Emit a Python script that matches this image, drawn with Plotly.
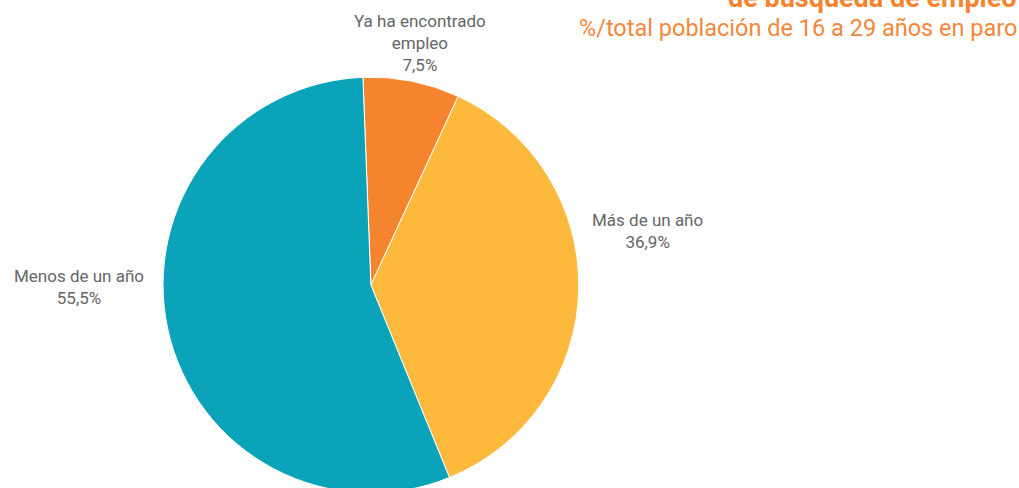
import plotly.graph_objects as go

categories = ["Ya ha encontrado empleo", "Más de un año", "Menos de un año"]
label_lines = ["Ya ha encontrado<br>empleo", "Más de un año", "Menos de un año"]
values = [7.5, 36.9, 55.5]
colors = ["#F5842E", "#FDB93B", "#0BA3BA"]

title_line = "de búsqueda de empleo"
subtitle = "%/total población de 16 a 29 años en paro"

W, H = 1019, 494

fig = go.Figure(go.Pie(
    labels=categories,
    values=values,
    sort=False,
    direction="clockwise",
    rotation=-2.2,
    marker=dict(colors=colors, line=dict(color="white", width=1)),
    textinfo="none",
    hoverinfo="skip",
    showlegend=False,
    domain=dict(x=[0.16, 0.568], y=[0.002, 0.844]),
))

# label placement (paper px from top-left) for each slice label
label_pos = [(420, 43), (647, 231), (79, 287)]
annotations = []
for lab, val, (px, py) in zip(label_lines, values, label_pos):
    txt = f"{lab}<br>{val:.1f}%".replace(".", ",")
    annotations.append(dict(
        text=txt, x=px / W, y=1 - py / H, xref="paper", yref="paper",
        xanchor="center", yanchor="middle", showarrow=False, align="center",
        font=dict(family="Roboto", size=17, color="#666666")))

annotations += [
    dict(text="<b>" + title_line + "</b>", x=1.0, xref="paper", xanchor="right",
         y=1.0, yref="paper", yanchor="middle", yshift=2, showarrow=False,
         font=dict(family="Roboto", size=27, color="#F5842E")),
    dict(text=subtitle, x=1.0, xref="paper", xanchor="right",
         y=1.0, yref="paper", yanchor="middle", yshift=-28, showarrow=False,
         font=dict(family="Roboto", size=23.5, color="#F5873A")),
]

fig.update_layout(
    width=W, height=H,
    margin=dict(l=0, r=0, t=0, b=0),
    paper_bgcolor="white",
    plot_bgcolor="white",
    font=dict(family="Roboto"),
    annotations=annotations,
)

fig.write_html("out.html", config={"displayModeBar": False},
               post_script="document.body.style.margin='0';document.body.style.overflow='hidden';document.documentElement.style.overflow='hidden';")
